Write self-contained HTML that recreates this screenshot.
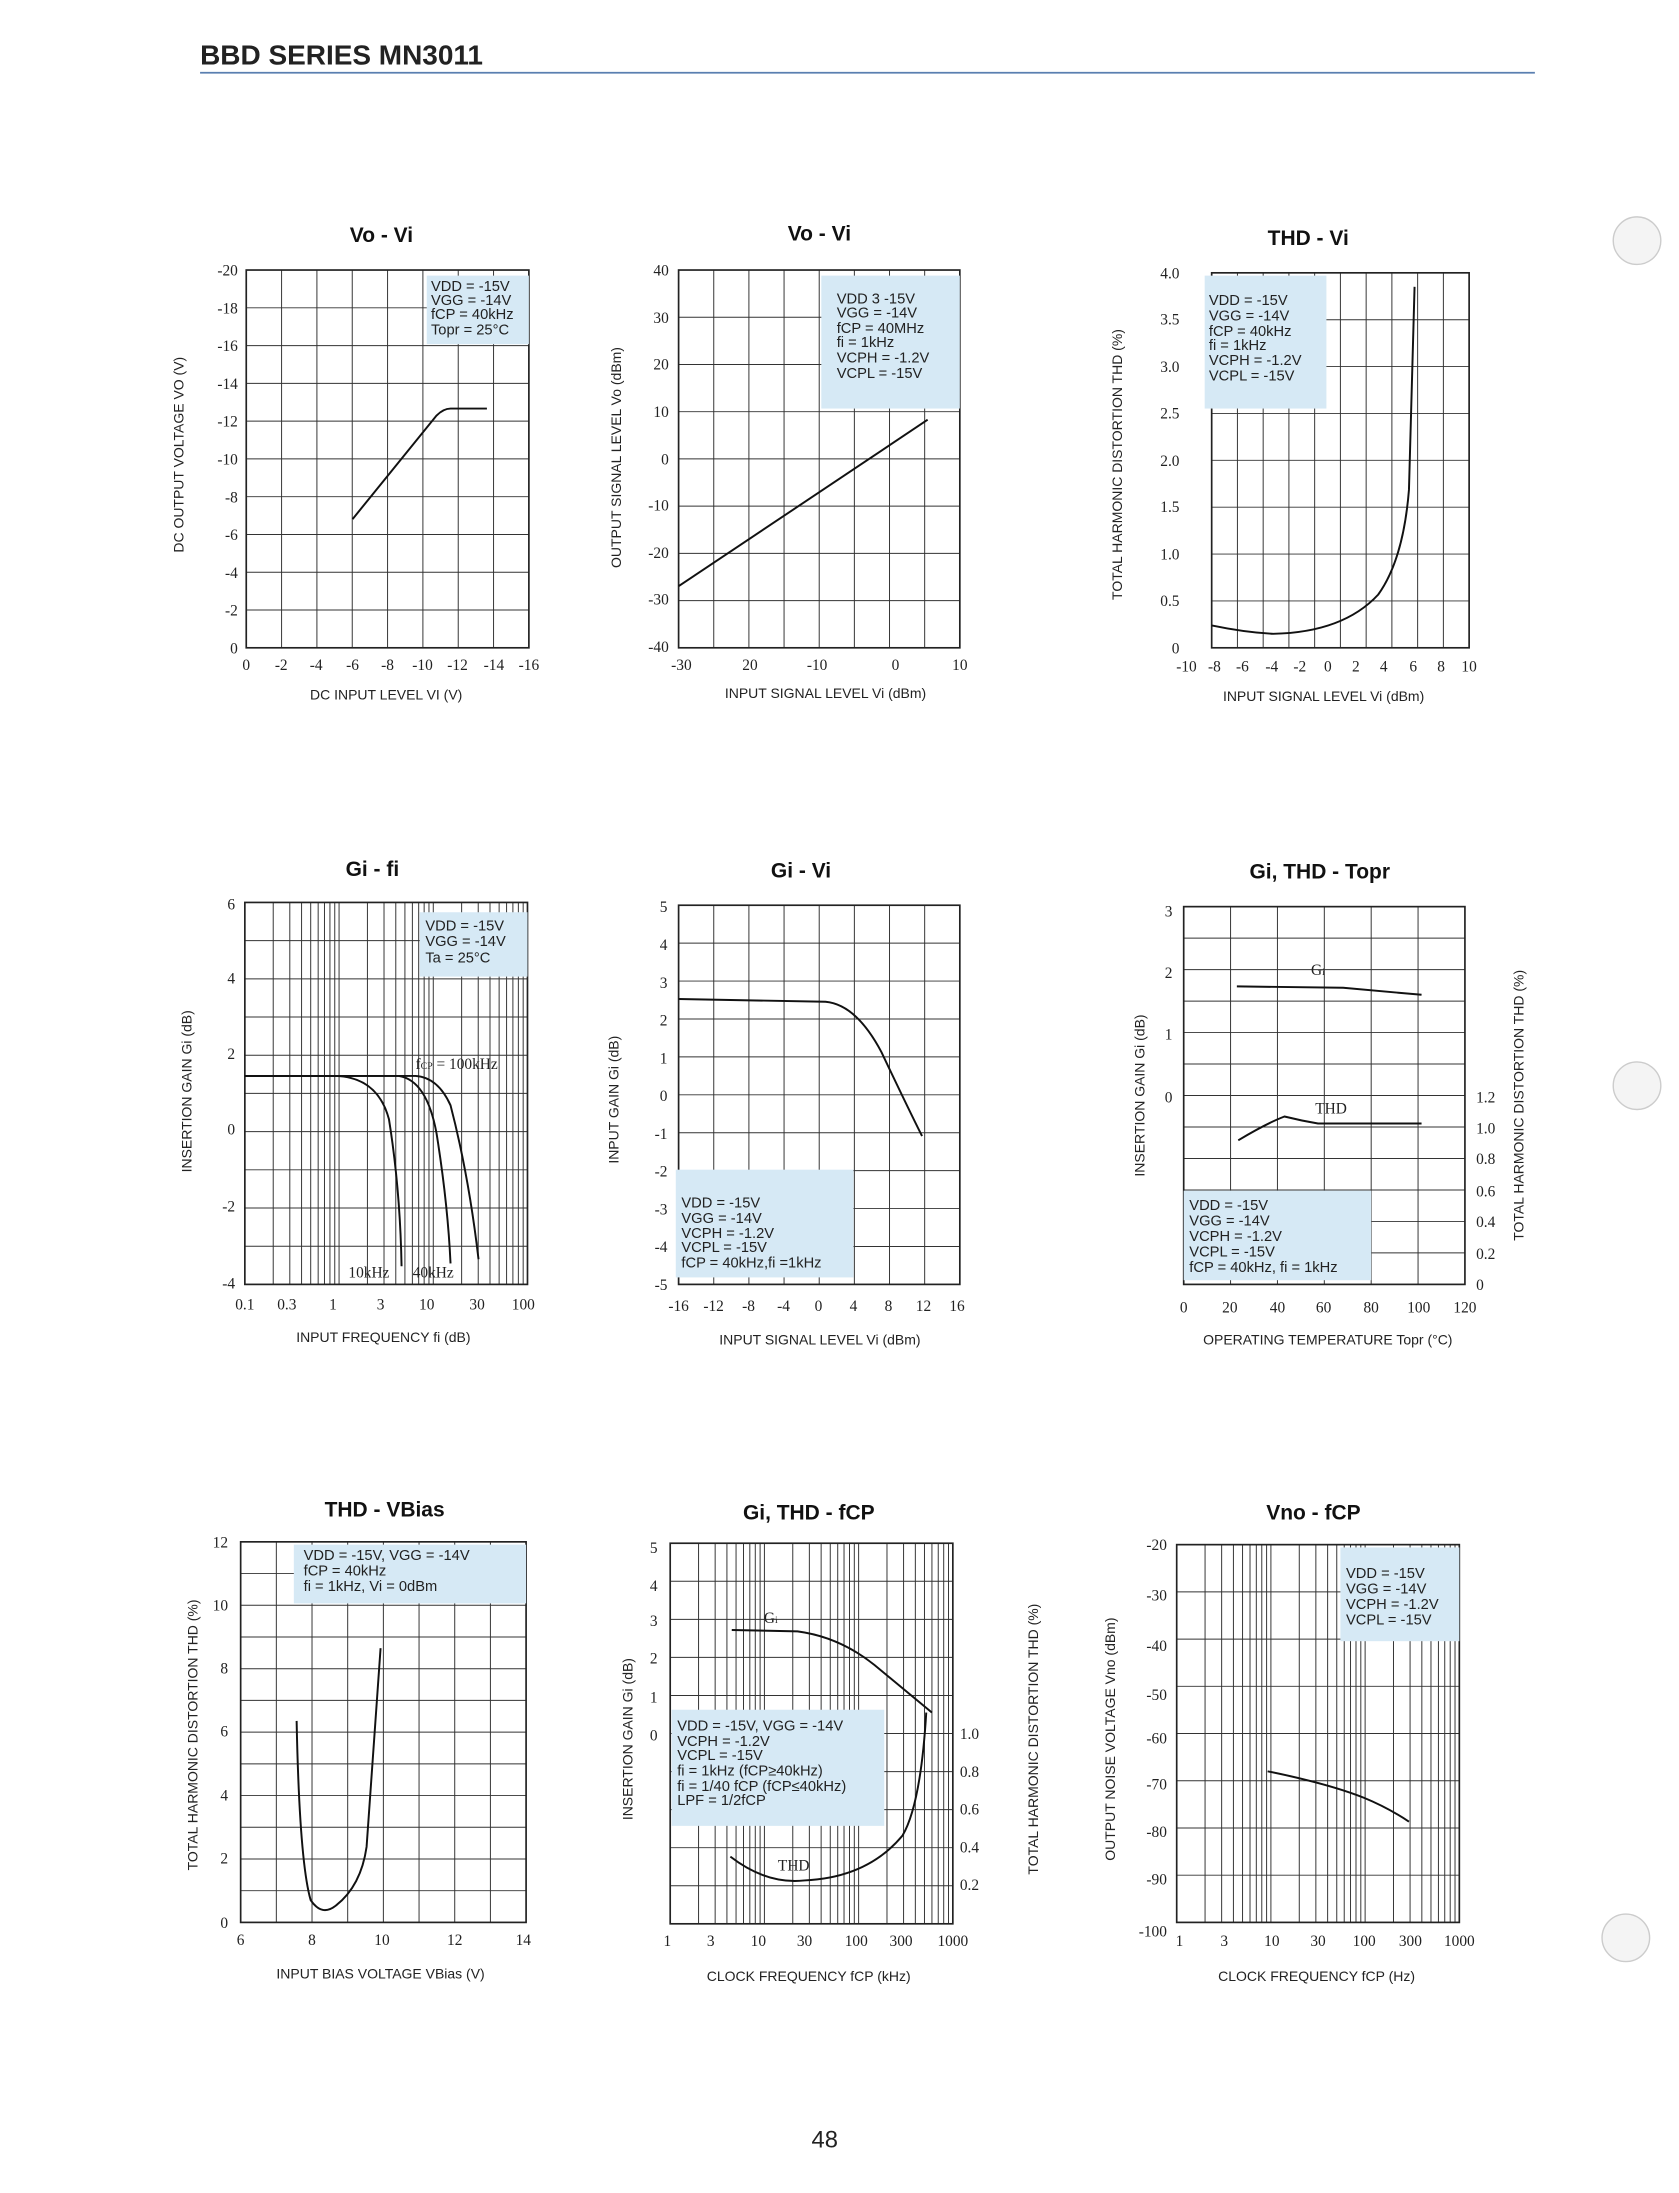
<!DOCTYPE html>
<html><head><meta charset="utf-8"><style>
html,body{margin:0;padding:0;background:#fff}
svg{display:block}
.t{font-family:"Liberation Serif",serif;font-size:11px;fill:#222}
.a{font-family:"Liberation Sans",sans-serif;font-size:10px;fill:#222}
.h{font-family:"Liberation Sans",sans-serif;font-size:15px;font-weight:bold;fill:#111}
.l{font-family:"Liberation Sans",sans-serif;font-size:10.5px;fill:#222}
</style></head><body>
<svg id="s" width="1679" height="2193" viewBox="0 0 1200 1567.4" preserveAspectRatio="none" xmlns="http://www.w3.org/2000/svg">
<text x="143" y="46" style="font-family:'Liberation Sans',sans-serif;font-size:20px;font-weight:bold;fill:#222">BBD SERIES MN3011</text>
<line x1="143" y1="52" x2="1097" y2="52" stroke="#5a7fb0" stroke-width="1.2"/>
<circle cx="1170" cy="172" r="17" fill="#f4f4f4" stroke="#ccc"/>
<circle cx="1170" cy="776" r="17" fill="#f4f4f4" stroke="#ccc"/>
<circle cx="1162" cy="1385" r="17" fill="#f4f4f4" stroke="#ccc"/>
<text x="580" y="1535" style="font-family:'Liberation Sans',sans-serif;font-size:17px;fill:#222">48</text>
<g id="grids"></g>
<g fill="#d6e9f5">
<rect x="305" y="197" width="73" height="49"/>
<rect x="587" y="197" width="99" height="95"/>
<rect x="861" y="197" width="87" height="95"/>
<rect x="300" y="652" width="77" height="46"/>
<rect x="483" y="836" width="127" height="77"/>
<rect x="846" y="851" width="134" height="64"/>
<rect x="210" y="1104" width="166" height="42"/>
<rect x="480" y="1222" width="152" height="83"/>
<rect x="958" y="1106" width="85" height="67"/>
</g>
<g class="l">
<text x="308" y="208">VDD = -15V</text><text x="308" y="218">VGG = -14V</text><text x="308" y="228">fCP = 40kHz</text><text x="308" y="239">Topr = 25°C</text>
<text x="598" y="217">VDD 3 -15V</text><text x="598" y="227">VGG = -14V</text><text x="598" y="238">fCP = 40MHz</text><text x="598" y="248">fi = 1kHz</text><text x="598" y="259">VCPH = -1.2V</text><text x="598" y="270">VCPL = -15V</text>
<text x="864" y="218">VDD = -15V</text><text x="864" y="229">VGG = -14V</text><text x="864" y="240">fCP = 40kHz</text><text x="864" y="250">fi = 1kHz</text><text x="864" y="261">VCPH = -1.2V</text><text x="864" y="272">VCPL = -15V</text>
<text x="304" y="665">VDD = -15V</text><text x="304" y="676">VGG = -14V</text><text x="304" y="688">Ta = 25°C</text>
<text x="487" y="863">VDD = -15V</text><text x="487" y="874">VGG = -14V</text><text x="487" y="885">VCPH = -1.2V</text><text x="487" y="895">VCPL = -15V</text><text x="487" y="906">fCP = 40kHz,fi =1kHz</text>
<text x="850" y="865">VDD = -15V</text><text x="850" y="876">VGG = -14V</text><text x="850" y="887">VCPH = -1.2V</text><text x="850" y="898">VCPL = -15V</text><text x="850" y="909">fCP = 40kHz, fi = 1kHz</text>
<text x="217" y="1115">VDD = -15V, VGG = -14V</text><text x="217" y="1126">fCP = 40kHz</text><text x="217" y="1137">fi = 1kHz, Vi = 0dBm</text>
<text x="484" y="1237">VDD = -15V, VGG = -14V</text><text x="484" y="1248">VCPH = -1.2V</text><text x="484" y="1258">VCPL = -15V</text><text x="484" y="1269">fi = 1kHz (fCP≥40kHz)</text><text x="484" y="1280">fi = 1/40 fCP (fCP≤40kHz)</text><text x="484" y="1290">LPF = 1/2fCP</text>
<text x="962" y="1128">VDD = -15V</text><text x="962" y="1139">VGG = -14V</text><text x="962" y="1150">VCPH = -1.2V</text><text x="962" y="1161">VCPL = -15V</text>
</g>
<g class="h">
<text x="250" y="173">Vo - Vi</text><text x="563" y="172">Vo - Vi</text><text x="906" y="175">THD - Vi</text>
<text x="247" y="626">Gi - fi</text><text x="551" y="627">Gi - Vi</text><text x="893" y="628">Gi, THD - Topr</text>
<text x="232" y="1084">THD - VBias</text><text x="531" y="1086">Gi, THD - fCP</text><text x="905" y="1086">Vno - fCP</text>
</g>
<g fill="none" stroke="#111" stroke-width="1.4">
<path d="M252,371 L312,297 Q317,292 322,292 L348,292"/>
<path d="M485,419 L663,300"/>
<path d="M866,447 Q890,452 910,453 Q960,452 985,425 Q1003,400 1007,350 L1011,205"/>
<path d="M175,769 L240,769 Q270,770 278,800 Q286,850 287,905"/>
<path d="M175,769 L285,769 Q305,772 312,810 Q320,860 322,903"/>
<path d="M175,769 L297,769 Q313,770 322,790 Q335,840 342,900"/>
<path d="M485,714 L590,716 Q612,718 630,752 Q648,790 659,812"/>
<path d="M884,705 L960,706 L1016,711"/>
<path d="M885,815 Q905,803 918,798 Q930,801 942,803 L1016,803"/>
<path d="M212,1230 Q214,1330 222,1358 Q230,1370 240,1362 Q258,1348 262,1320 L272,1178"/>
<path d="M523,1165 L570,1166 Q600,1170 625,1190 L666,1224"/>
<path d="M522,1327 Q548,1347 575,1344 Q620,1342 645,1312 Q658,1290 662,1224"/>
<path d="M906,1266 Q950,1275 975,1285 Q992,1292 1007,1302"/>
</g>
<g class="t">
<text x="297" y="764">f<tspan font-size="7">CP</tspan> = 100kHz</text>
<text x="249" y="913">10kHz</text><text x="295" y="913">40kHz</text>
<text x="937" y="697">G<tspan font-size="7">i</tspan></text><text x="940" y="796">THD</text>
<text x="546" y="1160">G<tspan font-size="7">i</tspan></text><text x="556" y="1337">THD</text>
</g>
<g class="t" text-anchor="end">
<text x="170" y="197">-20</text><text x="170" y="224">-18</text><text x="170" y="251">-16</text><text x="170" y="278">-14</text><text x="170" y="305">-12</text><text x="170" y="332">-10</text><text x="170" y="359">-8</text><text x="170" y="386">-6</text><text x="170" y="413">-4</text><text x="170" y="440">-2</text><text x="170" y="467">0</text>
<text x="478" y="197">40</text><text x="478" y="231">30</text><text x="478" y="264">20</text><text x="478" y="298">10</text><text x="478" y="332">0</text><text x="478" y="365">-10</text><text x="478" y="399">-20</text><text x="478" y="432">-30</text><text x="478" y="466">-40</text>
<text x="843" y="199">4.0</text><text x="843" y="232">3.5</text><text x="843" y="266">3.0</text><text x="843" y="299">2.5</text><text x="843" y="333">2.0</text><text x="843" y="366">1.5</text><text x="843" y="400">1.0</text><text x="843" y="433">0.5</text><text x="843" y="467">0</text>
<text x="168" y="650">6</text><text x="168" y="703">4</text><text x="168" y="757">2</text><text x="168" y="811">0</text><text x="168" y="866">-2</text><text x="168" y="921">-4</text>
<text x="477" y="652">5</text><text x="477" y="679">4</text><text x="477" y="706">3</text><text x="477" y="733">2</text><text x="477" y="760">1</text><text x="477" y="787">0</text><text x="477" y="814">-1</text><text x="477" y="841">-2</text><text x="477" y="868">-3</text><text x="477" y="895">-4</text><text x="477" y="922">-5</text>
<text x="838" y="655">3</text><text x="838" y="699">2</text><text x="838" y="743">1</text><text x="838" y="788">0</text>
<text x="163" y="1106">12</text><text x="163" y="1151">10</text><text x="163" y="1196">8</text><text x="163" y="1241">6</text><text x="163" y="1287">4</text><text x="163" y="1332">2</text><text x="163" y="1378">0</text>
<text x="470" y="1110">5</text><text x="470" y="1137">4</text><text x="470" y="1162">3</text><text x="470" y="1189">2</text><text x="470" y="1217">1</text><text x="470" y="1244">0</text>
<text x="834" y="1108">-20</text><text x="834" y="1144">-30</text><text x="834" y="1180">-40</text><text x="834" y="1215">-50</text><text x="834" y="1246">-60</text><text x="834" y="1279">-70</text><text x="834" y="1313">-80</text><text x="834" y="1347">-90</text><text x="834" y="1384">-100</text>
</g>
<g class="t">
<text x="1055" y="788">1.2</text><text x="1055" y="810">1.0</text><text x="1055" y="832">0.8</text><text x="1055" y="855">0.6</text><text x="1055" y="877">0.4</text><text x="1055" y="900">0.2</text><text x="1055" y="922">0</text>
<text x="686" y="1243">1.0</text><text x="686" y="1270">0.8</text><text x="686" y="1297">0.6</text><text x="686" y="1324">0.4</text><text x="686" y="1351">0.2</text>
</g>
<g class="t" text-anchor="middle">
<text x="176" y="479">0</text><text x="201" y="479">-2</text><text x="226" y="479">-4</text><text x="252" y="479">-6</text><text x="277" y="479">-8</text><text x="302" y="479">-10</text><text x="327" y="479">-12</text><text x="353" y="479">-14</text><text x="378" y="479">-16</text>
<text x="487" y="479">-30</text><text x="536" y="479">20</text><text x="584" y="479">-10</text><text x="640" y="479">0</text><text x="686" y="479">10</text>
<text x="848" y="480">-10</text><text x="868" y="480">-8</text><text x="888" y="480">-6</text><text x="909" y="480">-4</text><text x="929" y="480">-2</text><text x="949" y="480">0</text><text x="969" y="480">2</text><text x="989" y="480">4</text><text x="1010" y="480">6</text><text x="1030" y="480">8</text><text x="1050" y="480">10</text>
<text x="175" y="936">0.1</text><text x="205" y="936">0.3</text><text x="238" y="936">1</text><text x="272" y="936">3</text><text x="305" y="936">10</text><text x="341" y="936">30</text><text x="374" y="936">100</text>
<text x="485" y="937">-16</text><text x="510" y="937">-12</text><text x="535" y="937">-8</text><text x="560" y="937">-4</text><text x="585" y="937">0</text><text x="610" y="937">4</text><text x="635" y="937">8</text><text x="660" y="937">12</text><text x="684" y="937">16</text>
<text x="846" y="938">0</text><text x="879" y="938">20</text><text x="913" y="938">40</text><text x="946" y="938">60</text><text x="980" y="938">80</text><text x="1014" y="938">100</text><text x="1047" y="938">120</text>
<text x="172" y="1390">6</text><text x="223" y="1390">8</text><text x="273" y="1390">10</text><text x="325" y="1390">12</text><text x="374" y="1390">14</text>
<text x="477" y="1391">1</text><text x="508" y="1391">3</text><text x="542" y="1391">10</text><text x="575" y="1391">30</text><text x="612" y="1391">100</text><text x="644" y="1391">300</text><text x="681" y="1391">1000</text>
<text x="843" y="1391">1</text><text x="875" y="1391">3</text><text x="909" y="1391">10</text><text x="942" y="1391">30</text><text x="975" y="1391">100</text><text x="1008" y="1391">300</text><text x="1043" y="1391">1000</text>
</g>
<g class="a" text-anchor="middle">
<text x="276" y="500">DC INPUT LEVEL VI (V)</text>
<text x="590" y="499">INPUT SIGNAL LEVEL Vi (dBm)</text>
<text x="946" y="501">INPUT SIGNAL LEVEL Vi (dBm)</text>
<text x="274" y="959">INPUT FREQUENCY fi (dB)</text>
<text x="586" y="961">INPUT SIGNAL LEVEL Vi (dBm)</text>
<text x="949" y="961">OPERATING TEMPERATURE Topr (°C)</text>
<text x="272" y="1414">INPUT BIAS VOLTAGE VBias (V)</text>
<text x="578" y="1416">CLOCK FREQUENCY fCP (kHz)</text>
<text x="941" y="1416">CLOCK FREQUENCY fCP (Hz)</text>
<text transform="translate(131,325) rotate(-90)">DC OUTPUT VOLTAGE VO (V)</text>
<text transform="translate(444,327) rotate(-90)">OUTPUT SIGNAL LEVEL Vo (dBm)</text>
<text transform="translate(802,332) rotate(-90)">TOTAL HARMONIC DISTORTION THD (%)</text>
<text transform="translate(137,780) rotate(-90)">INSERTION GAIN Gi (dB)</text>
<text transform="translate(442,786) rotate(-90)">INPUT GAIN Gi (dB)</text>
<text transform="translate(818,783) rotate(-90)">INSERTION GAIN Gi (dB)</text>
<text transform="translate(1089,790) rotate(-90)">TOTAL HARMONIC DISTORTION THD (%)</text>
<text transform="translate(141,1240) rotate(-90)">TOTAL HARMONIC DISTORTION THD (%)</text>
<text transform="translate(452,1243) rotate(-90)">INSERTION GAIN Gi (dB)</text>
<text transform="translate(742,1243) rotate(-90)">TOTAL HARMONIC DISTORTION THD (%)</text>
<text transform="translate(797,1243) rotate(-90)">OUTPUT NOISE VOLTAGE Vno (dBm)</text>
</g>
</svg>
<script>
(function(){
var g=document.getElementById('grids'),NS='http://www.w3.org/2000/svg';
function ln(x1,y1,x2,y2,w){var l=document.createElementNS(NS,'line');l.setAttribute('x1',x1);l.setAttribute('y1',y1);l.setAttribute('x2',x2);l.setAttribute('y2',y2);l.setAttribute('stroke','#333');l.setAttribute('stroke-width',w||0.7);g.appendChild(l);}
function lin(n){var a=[];for(var i=0;i<=n;i++)a.push(i/n);return a;}
function lg(d){var a=[];for(var k=0;k<d;k++)for(var m=1;m<10;m++)a.push((k+Math.log10(m))/d);a.push(1);return a;}
function G(x0,y0,x1,y1,xs,ys){xs.forEach(function(f){ln(x0+f*(x1-x0),y0,x0+f*(x1-x0),y1);});ys.forEach(function(f){ln(x0,y0+f*(y1-y0),x1,y0+f*(y1-y0));});var r=document.createElementNS(NS,'rect');r.setAttribute('x',x0);r.setAttribute('y',y0);r.setAttribute('width',x1-x0);r.setAttribute('height',y1-y0);r.setAttribute('fill','none');r.setAttribute('stroke','#222');r.setAttribute('stroke-width',1.2);g.appendChild(r);}
G(176,193,378,463,lin(8),lin(10));
G(485,193,686,463,lin(8),lin(8));
G(866,195,1050,463,lin(10),lin(8));
G(175,645,377,918,lg(3),lin(10));
G(485,647,686,918,lin(8),lin(10));
G(846,648,1047,918,lin(6),lin(12));
G(172,1102,376,1374,lin(8),lin(12));
G(479,1103,681,1375,lg(3),lin(10));
G(841,1104,1043,1374,lg(3),lin(8));
})();
</script>
</body></html>
